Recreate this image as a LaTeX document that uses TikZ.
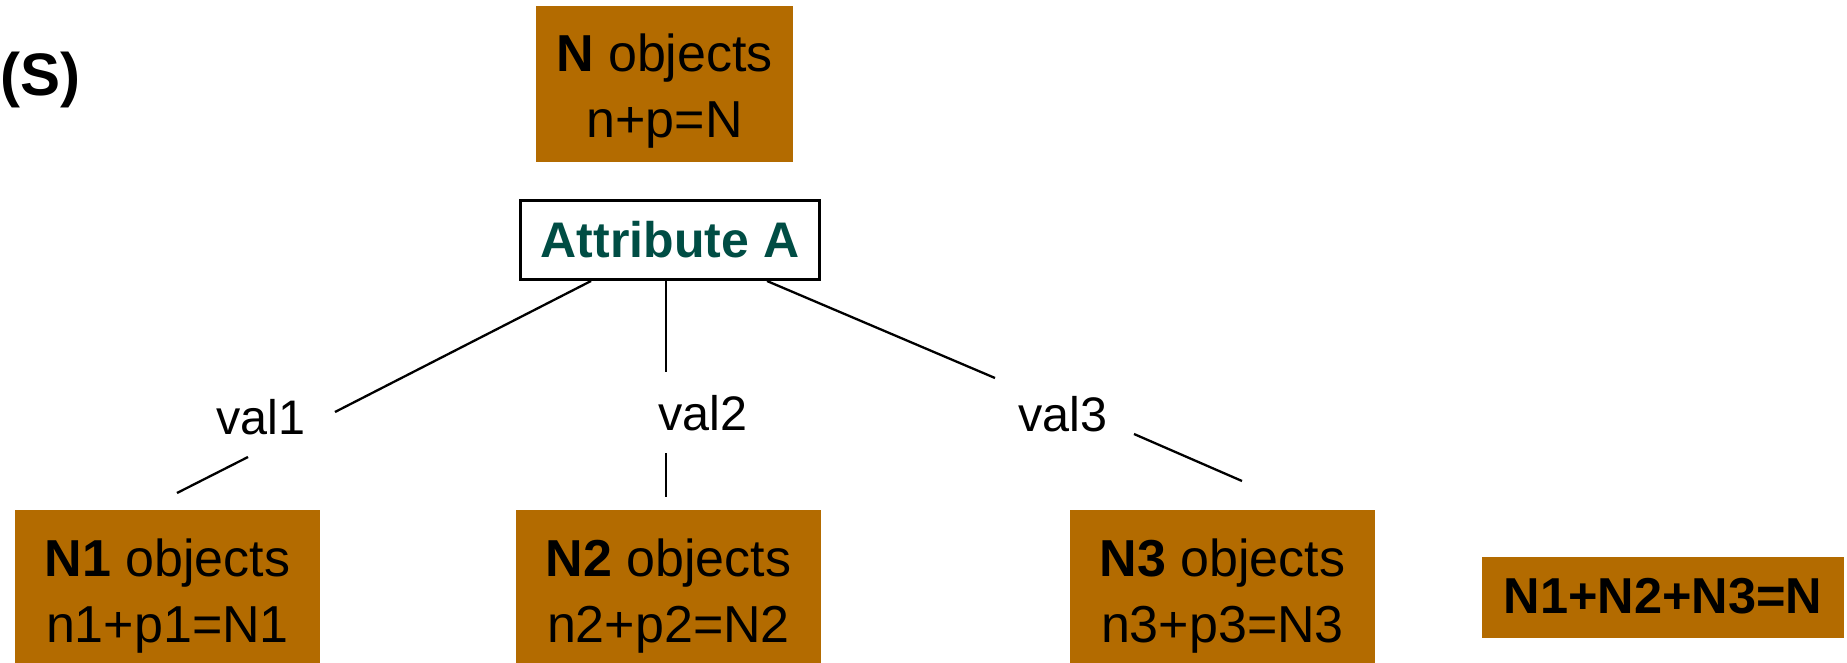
\documentclass[tikz,border=0pt]{standalone}
\usepackage{fontspec}
\setmainfont{Liberation Sans}
\usetikzlibrary{calc}
\definecolor{boxbrown}{RGB}{179,107,0}
\definecolor{attrgreen}{RGB}{0,77,68}

\begin{document}
\begin{tikzpicture}[x=1pt,y=-1pt,
  fillbox/.style={rectangle, fill=boxbrown, draw=none, inner sep=0pt},
  boxtext/.style={anchor=base, inner sep=0pt, font=\fontsize{52}{60}\selectfont},
  vallabel/.style={anchor=base, inner sep=0pt, font=\fontsize{48.5}{56}\selectfont},
  conn/.style={line width=2.3pt},
]
\useasboundingbox (0,0) rectangle (1847,663);

% panel label
\node[anchor=base west, inner sep=0pt, font=\bfseries\fontsize{60}{66}\selectfont] (panel) at (0,96) {(S)};

% root set
\node[fillbox, minimum width=257pt, minimum height=156pt] (root) at (664.5,84) {};
\node[boxtext] (roottop) at (root.center |- 0,72) {\textbf{N} objects};
\node[boxtext] (rootbot) at (root.center |- 0,138) {n+p=N};

% splitting attribute
\node[draw, line width=3pt, fill=white, inner sep=0pt,
      minimum width=299pt, minimum height=79pt, text=attrgreen,
      font=\bfseries\fontsize{50}{60}\selectfont] (attr) at (670,240) {Attribute A};

% child sets
\node[fillbox, minimum width=305pt, minimum height=153pt] (c1) at (167.5,586.5) {};
\node[fillbox, minimum width=305pt, minimum height=153pt] (c2) at (668.5,586.5) {};
\node[fillbox, minimum width=305pt, minimum height=153pt] (c3) at (1222.5,586.5) {};
\node[boxtext] (c1top) at (c1.center |- 0,576) {\textbf{N1} objects};
\node[boxtext] (c1bot) at (c1.center |- 0,642) {n1+p1=N1};
\node[boxtext] (c2top) at (c2.center |- 0,576) {\textbf{N2} objects};
\node[boxtext] (c2bot) at (c2.center |- 0,642) {n2+p2=N2};
\node[boxtext] (c3top) at (c3.center |- 0,576) {\textbf{N3} objects};
\node[boxtext] (c3bot) at (c3.center |- 0,642) {n3+p3=N3};

% total
\node[fillbox, minimum width=362pt, minimum height=81pt] (sum) at (1663,597.5) {};
\node[anchor=base, inner sep=0pt, font=\bfseries\fontsize{50.5}{60}\selectfont] (sumtxt) at (sum.center |- 0,613) {N1+N2+N3=N};

% branch values
\node[vallabel] (v1) at (261,434) {val1};
\node[vallabel] (v2) at (703,430) {val2};
\node[vallabel] (v3) at (1063,431) {val3};

% branch ends around the value labels
\coordinate (g1a) at (335,412);
\coordinate (g1b) at (248,457);
\coordinate (e1) at (177,493);
\coordinate (g2a) at (666,372);
\coordinate (g2b) at (666,453);
\coordinate (e2) at (666,497);
\coordinate (g3a) at (995,378);
\coordinate (g3b) at (1134,434);
\coordinate (e3) at (1242,481);

\draw[conn] ([xshift=-79pt]attr.south) -- (g1a);
\draw[conn] (g1b) -- (e1);
\draw[conn] ([xshift=-4pt]attr.south) -- (g2a);
\draw[conn] (g2b) -- (e2);
\draw[conn] ([xshift=97pt]attr.south) -- (g3a);
\draw[conn] (g3b) -- (e3);
\end{tikzpicture}
\end{document}
